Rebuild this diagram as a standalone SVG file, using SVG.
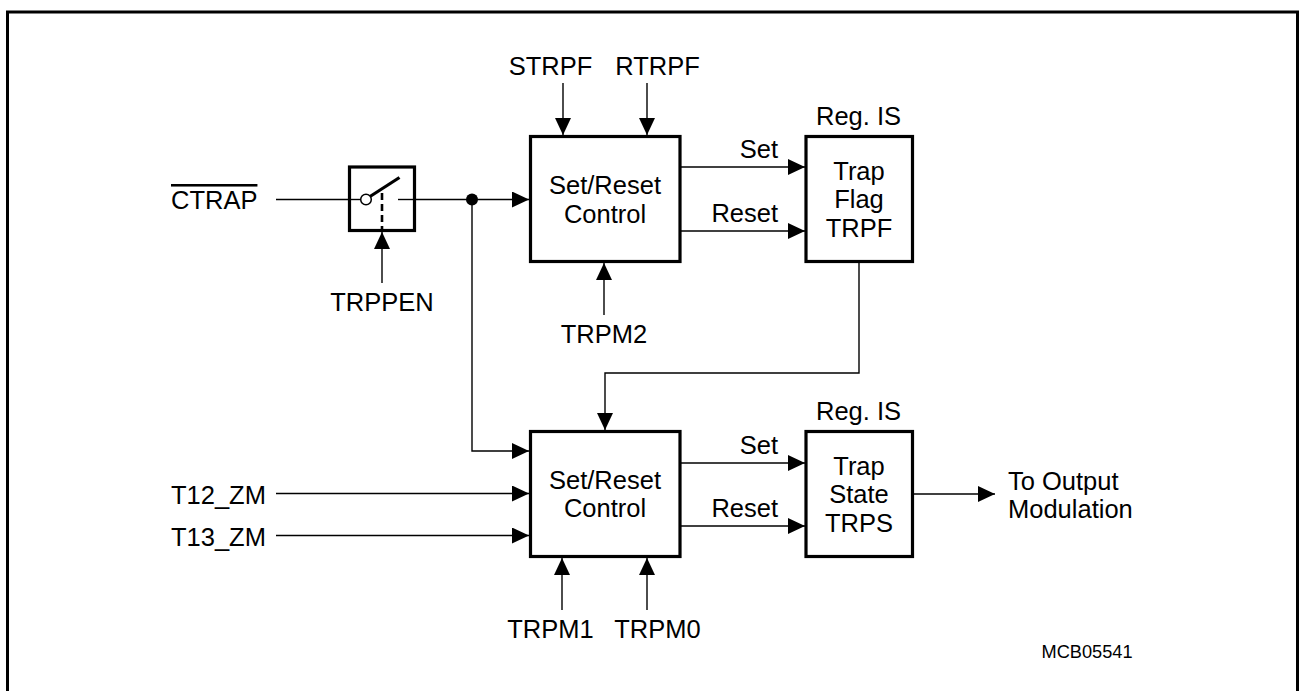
<svg xmlns="http://www.w3.org/2000/svg" width="1299" height="691" viewBox="0 0 1299 691">
<defs>
<style>
text{font-family:"Liberation Sans",Arial,sans-serif;font-size:25.5px;fill:#000}
.c{text-anchor:middle}
.e{text-anchor:end}
.box{fill:#fff;stroke:#000;stroke-width:3.2}
.w{fill:none;stroke:#000;stroke-width:1.4}
.a{marker-end:url(#arr)}
</style>
<marker id="arr" viewBox="0 0 17 16" refX="17" refY="8" markerWidth="17" markerHeight="16" markerUnits="userSpaceOnUse" orient="auto">
<path d="M0,0 L17,8 L0,16 z" fill="#000"/>
</marker>
</defs>
<rect x="0" y="0" width="1299" height="691" fill="#fff"/>
<rect x="7.5" y="12" width="1290" height="700" fill="none" stroke="#000" stroke-width="3"/>

<g id="connectors">
<line class="w" x1="276" y1="199.5" x2="361" y2="199.5"/>
<line class="w a" x1="398" y1="199.5" x2="529" y2="199.5"/>
<circle cx="472" cy="199.5" r="6" fill="#000"/>
<polyline class="w a" points="472,199.5 472,451 529,451"/>
<line class="w a" x1="382" y1="283" x2="382" y2="232"/>
<line class="w a" x1="563" y1="83" x2="563" y2="135"/>
<line class="w a" x1="647" y1="83" x2="647" y2="135"/>
<line class="w a" x1="604" y1="315" x2="604" y2="263"/>
<line class="w a" x1="681" y1="167" x2="805" y2="167"/>
<line class="w a" x1="681" y1="231" x2="805" y2="231"/>
<polyline class="w a" points="859,262 859,373 605,373 605,430"/>
<line class="w a" x1="276" y1="493.5" x2="529" y2="493.5"/>
<line class="w a" x1="276" y1="535.5" x2="529" y2="535.5"/>
<line class="w a" x1="681" y1="463" x2="805" y2="463"/>
<line class="w a" x1="681" y1="526" x2="805" y2="526"/>
<line class="w a" x1="562" y1="610" x2="562" y2="558"/>
<line class="w a" x1="647" y1="610" x2="647" y2="558"/>
<line class="w a" x1="913" y1="494" x2="995" y2="494"/>
</g>

<g id="ctrap">
<text x="171" y="209" style="text-decoration:overline">CTRAP</text>
</g>

<g id="switch">
<rect class="box" x="349.5" y="167" width="65" height="63.5"/>
<line class="w" x1="349.5" y1="199.5" x2="361" y2="199.5"/>
<line class="w" x1="398" y1="199.5" x2="414" y2="199.5"/>
<line x1="382" y1="193" x2="382" y2="230" stroke="#000" stroke-width="2.6" stroke-dasharray="7,4"/>
<line x1="370" y1="196.5" x2="399.5" y2="177.5" stroke="#000" stroke-width="3.2"/>
<circle cx="366" cy="199.5" r="5.3" fill="#fff" stroke="#000" stroke-width="1.5"/>
</g>

<g id="trppen">
<text class="c" x="382" y="311">TRPPEN</text>
</g>

<g id="strpf"><text class="c" x="550.5" y="75">STRPF</text></g>
<g id="rtrpf"><text class="c" x="657.5" y="75">RTRPF</text></g>

<g id="src-top">
<rect class="box" x="530.5" y="136.5" width="149.5" height="125"/>
<text class="c" x="605" y="194.3">Set/Reset</text>
<text class="c" x="605" y="222.7">Control</text>
</g>

<g id="labels-top">
<text class="e" x="778" y="158.3">Set</text>
<text class="e" x="778" y="221.7">Reset</text>
</g>

<g id="trpf">
<text class="c" x="858.5" y="125">Reg. IS</text>
<rect class="box" x="806" y="136.5" width="106.5" height="125"/>
<text class="c" x="859" y="180">Trap</text>
<text class="c" x="859" y="208">Flag</text>
<text class="c" x="859" y="236.5">TRPF</text>
</g>

<g id="trpm2"><text class="c" x="604" y="343">TRPM2</text></g>

<g id="t12"><text x="171" y="504.3">T12_ZM</text></g>
<g id="t13"><text x="171" y="546">T13_ZM</text></g>

<g id="src-bottom">
<rect class="box" x="530.5" y="431.5" width="149.5" height="125"/>
<text class="c" x="605" y="489.3">Set/Reset</text>
<text class="c" x="605" y="517.3">Control</text>
</g>

<g id="labels-bottom">
<text class="e" x="778" y="453.5">Set</text>
<text class="e" x="778" y="516.7">Reset</text>
</g>

<g id="trps">
<text class="c" x="858.5" y="420">Reg. IS</text>
<rect class="box" x="806" y="431.5" width="106.5" height="125"/>
<text class="c" x="859" y="475">Trap</text>
<text class="c" x="859" y="503">State</text>
<text class="c" x="859" y="531.5">TRPS</text>
</g>

<g id="trpm1"><text class="c" x="550.5" y="637.7">TRPM1</text></g>
<g id="trpm0"><text class="c" x="657.5" y="637.7">TRPM0</text></g>

<g id="output">
<text x="1008" y="490">To Output</text>
<text x="1008" y="518">Modulation</text>
</g>

<text class="c" x="1087" y="658" style="font-size:18.2px">MCB05541</text>
</svg>
